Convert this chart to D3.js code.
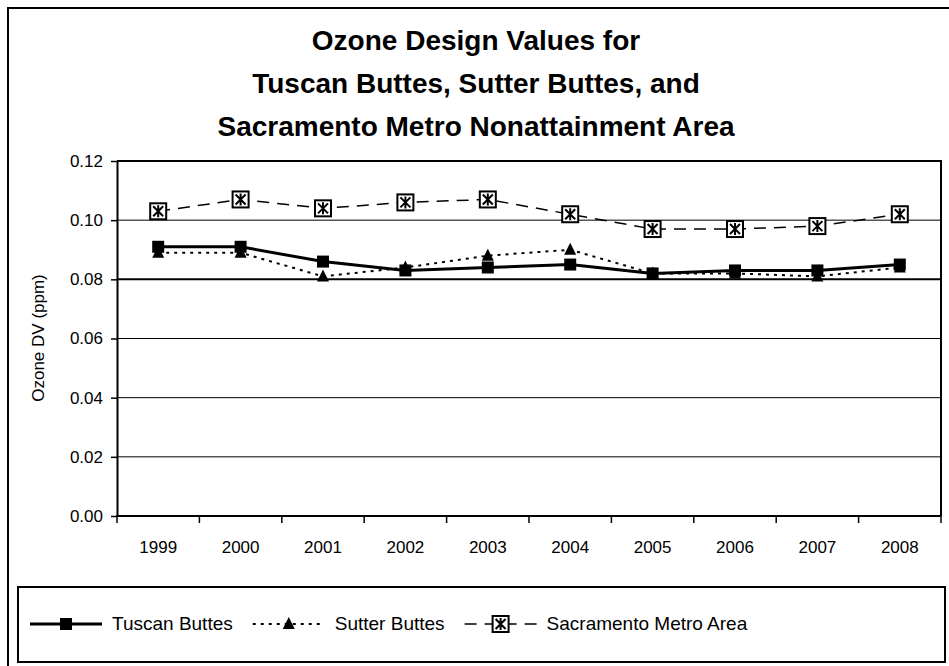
<!DOCTYPE html>
<html><head><meta charset="utf-8">
<script src="https://cdn.jsdelivr.net/npm/d3@7"></script>
<style>body{margin:0;background:#fff}svg{display:block;font-family:"Liberation Sans",Arial,sans-serif}</style>
</head><body><svg id="c" width="949" height="666"></svg>
<script>
const years = ["1999","2000","2001","2002","2003","2004","2005","2006","2007","2008"];
const tuscan = [0.091,0.091,0.086,0.083,0.084,0.085,0.082,0.083,0.083,0.085];
const sutter = [0.089,0.089,0.081,0.084,0.088,0.090,0.082,0.082,0.081,0.084];
const sacramento = [0.103,0.107,0.104,0.106,0.107,0.102,0.097,0.097,0.098,0.102];
const yTicks = [0,0.02,0.04,0.06,0.08,0.10,0.12];
const titleLines = ["Ozone Design Values for","Tuscan Buttes, Sutter Buttes, and","Sacramento Metro Nonattainment Area"];
const seriesNames = ["Tuscan Buttes","Sutter Buttes","Sacramento Metro Area"];

const svg = d3.select("#c");
const L=117,R=941,T=161,B=516;
const FONT="Liberation Sans, Arial, sans-serif";
const x = d3.scaleBand().domain(years).range([L,R]);
const y = d3.scaleLinear().domain([0,0.12]).range([B,T]);
const cx = d => x(d)+x.bandwidth()/2;

// outer border
svg.append("rect").attr("x",8).attr("y",8).attr("width",980).attr("height",700)
  .attr("fill","none").attr("stroke","#000").attr("stroke-width",2);

// title
svg.append("g").selectAll("text").data(titleLines).join("text")
  .attr("x",476).attr("y",(d,i)=>50+i*43).attr("text-anchor","middle")
  .attr("font-size",28).attr("font-weight","bold").text(d=>d);

// gridlines
svg.append("g").selectAll("line").data(yTicks.filter(v=>v>0&&v<0.12)).join("line")
  .attr("x1",L).attr("x2",R).attr("y1",d=>y(d)).attr("y2",d=>y(d))
  .attr("stroke","#000").attr("stroke-width",d=>Math.abs(d-0.08)<1e-9?2:1);

// plot border top/right
svg.append("path").attr("d",`M${L},${T}H${R}V${B}`).attr("fill","none").attr("stroke","#000").attr("stroke-width",2);

// y axis
const ya = svg.append("g").attr("transform",`translate(${L},0)`)
  .call(d3.axisLeft(y).tickValues(yTicks).tickFormat(d3.format(".2f")).tickSize(6).tickPadding(8).tickSizeOuter(0));
ya.select(".domain").attr("stroke-width",2);
ya.selectAll(".tick line").attr("stroke-width",1.5);
ya.selectAll("text").attr("font-size",17).attr("fill","#000").attr("font-family",FONT);

// x axis
const xa = svg.append("g").attr("transform",`translate(0,${B})`)
  .call(d3.axisBottom(x).tickSize(0).tickPadding(25).tickSizeOuter(0));
xa.select(".domain").remove();
xa.selectAll("text").attr("font-size",17).attr("fill","#000").attr("font-family",FONT);
svg.append("line").attr("x1",L-1).attr("x2",R).attr("y1",B).attr("y2",B).attr("stroke","#000").attr("stroke-width",2);
svg.append("g").selectAll("line").data(d3.range(years.length+1)).join("line")
  .attr("x1",i=>L+i*x.bandwidth()).attr("x2",i=>L+i*x.bandwidth())
  .attr("y1",B).attr("y2",B+7).attr("stroke","#000").attr("stroke-width",1.5);

// y label
svg.append("text").attr("transform","translate(44,338) rotate(-90)").attr("text-anchor","middle")
  .attr("font-size",17).text("Ozone DV (ppm)");

const line = d3.line().x((d,i)=>cx(years[i])).y(d=>y(d));

// Sacramento
svg.append("path").datum(sacramento).attr("d",line).attr("fill","none").attr("stroke","#000")
  .attr("stroke-width",1.5).attr("stroke-dasharray","12,8");
// Sutter
svg.append("path").datum(sutter).attr("d",line).attr("fill","none").attr("stroke","#000")
  .attr("stroke-width",2).attr("stroke-dasharray","3,5");
// Tuscan
svg.append("path").datum(tuscan).attr("d",line).attr("fill","none").attr("stroke","#000")
  .attr("stroke-width",3);

function sqMarker(g,px,py){
  g.append("rect").attr("x",px-6).attr("y",py-6).attr("width",12).attr("height",12).attr("fill","#000");
}
function triMarker(g,px,py){
  g.append("path").attr("d",`M${px},${py-7}L${px+6},${py+5}L${px-6},${py+5}Z`).attr("fill","#000");
}
function boxMarker(g,px,py){
  const s=8;
  g.append("rect").attr("x",px-s).attr("y",py-s).attr("width",2*s).attr("height",2*s)
    .attr("fill","#fff").attr("stroke","#000").attr("stroke-width",2);
  g.append("path").attr("d",`M${px-5},${py-5}L${px+5},${py+5}M${px+5},${py-5}L${px-5},${py+5}M${px},${py-6}V${py+6}`)
    .attr("stroke","#000").attr("stroke-width",2);
}
const mg = svg.append("g");
sacramento.forEach((v,i)=>boxMarker(mg,cx(years[i]),y(v)));
sutter.forEach((v,i)=>triMarker(mg,cx(years[i]),y(v)));
tuscan.forEach((v,i)=>sqMarker(mg,cx(years[i]),y(v)));

// legend
svg.append("rect").attr("x",18).attr("y",587).attr("width",927).attr("height",75)
  .attr("fill","#fff").attr("stroke","#000").attr("stroke-width",2);
const ly=624;
const leg = svg.append("g");
const legStyles = [
  {dash:null,w:3,m:sqMarker},
  {dash:"3,5",w:2,m:triMarker},
  {dash:"12,8",w:1.5,m:boxMarker}
];
let cur = 30;
legStyles.forEach((it,i)=>{
  const x0=cur, x1=cur+72;
  leg.append("line").attr("x1",x0).attr("x2",x1).attr("y1",ly).attr("y2",ly)
    .attr("stroke","#000").attr("stroke-width",it.w).attr("stroke-dasharray",it.dash);
  it.m(leg,(x0+x1)/2,ly);
  const t = leg.append("text").attr("x",x1+10).attr("y",ly+6).attr("font-size",19).text(seriesNames[i]);
  cur = x1+10+t.node().getComputedTextLength()+20;
});
</script></body></html>
